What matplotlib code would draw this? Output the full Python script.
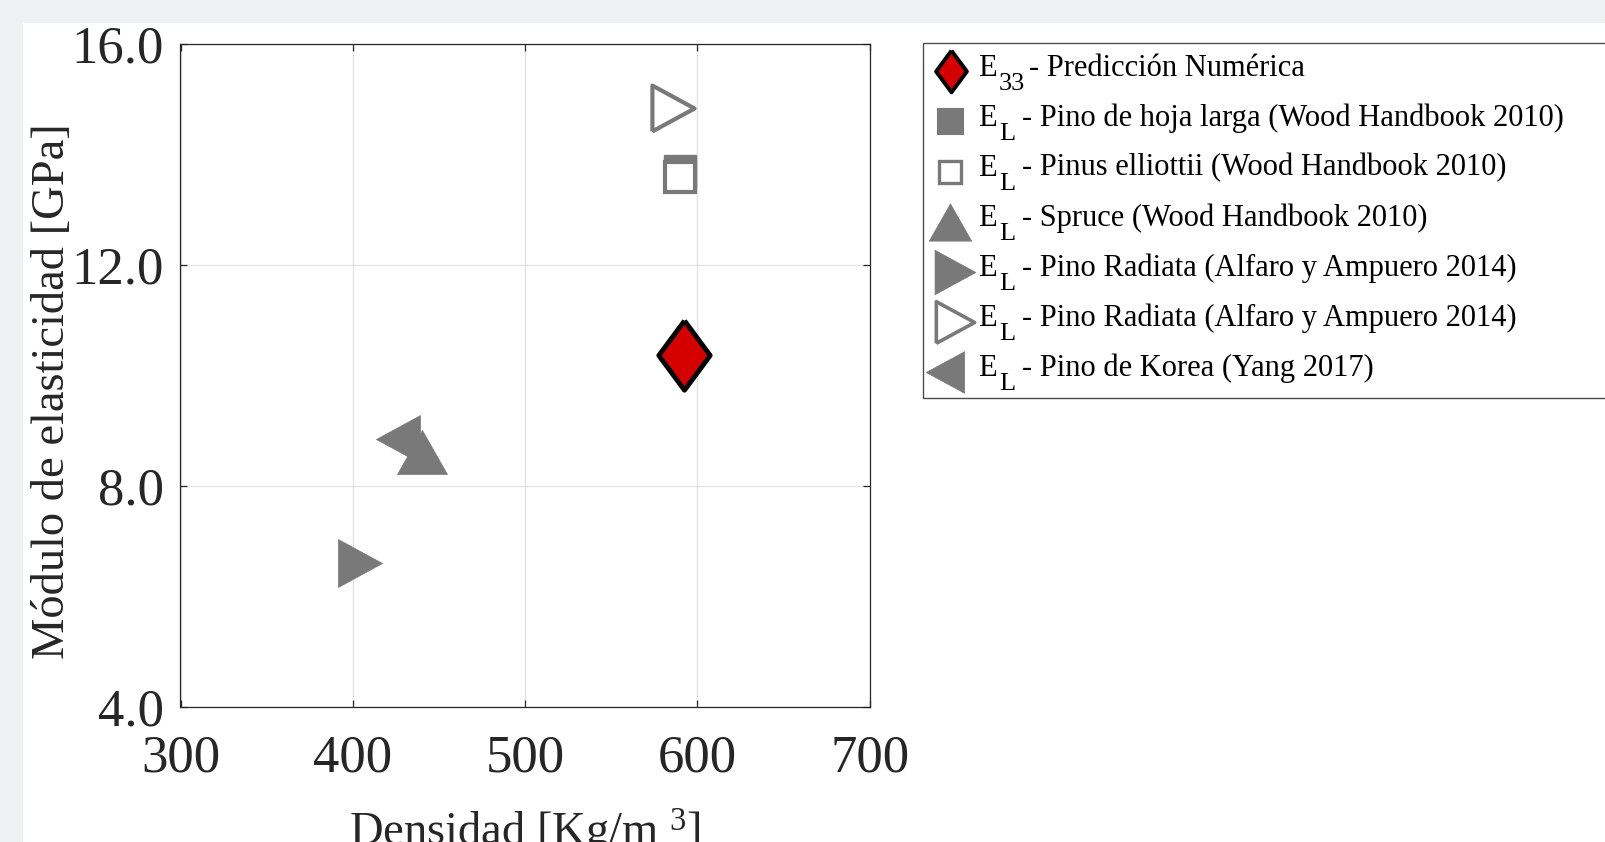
import matplotlib
matplotlib.use("Agg")
import matplotlib.pyplot as plt
from matplotlib.lines import Line2D
from matplotlib.patches import Rectangle

plt.rcParams['font.family'] = ['Liberation Serif', 'DejaVu Serif']
plt.rcParams['mathtext.fontset'] = 'custom'
plt.rcParams['mathtext.rm'] = 'Liberation Serif'
plt.rcParams['mathtext.it'] = 'Liberation Serif:italic'

# ---------------- DATA ---------------- #
subindices = ['33', 'L', 'L', 'L', 'L', 'L', 'L']
descripciones = [
    '- Predicción Numérica',
    '- Pino de hoja larga (Wood Handbook 2010)',
    '- Pinus elliottii (Wood Handbook 2010)',
    '- Spruce (Wood Handbook 2010)',
    '- Pino Radiata (Alfaro y Ampuero 2014)',
    '- Pino Radiata (Alfaro y Ampuero 2014)',
    '- Pino de Korea (Yang 2017)',
]
densidad = [592, 590, 590, 440, 404, 586, 426]       # kg/m3
modulo = [10.36, 13.70, 13.59, 8.62, 6.61, 14.84, 8.84]  # GPa

x_ticks = [300, 400, 500, 600, 700]
y_ticks = [4, 8, 12, 16]

# ---------------- STYLES ---------------- #
gris = '#797979'
rojo = '#d40000'
rombo = [(0, 1), (0.74, 0), (0, -1), (-0.74, 0), (0, 1)]
tri_up = [(-1, -0.88), (1, -0.88), (0, 0.88), (-1, -0.88)]
tri_der = [(-0.92, -1), (-0.92, 1), (0.92, 0), (-0.92, -1)]
tri_izq = [(0.92, -1), (0.92, 1), (-0.92, 0), (0.92, -1)]

# marker, face, edge, size in plot, edge width in plot, size in legend, edge width in legend
estilos = [
    (rombo, rojo, 'black', 50, 3.5, 30, 2.8),
    ('s', gris, gris, 23, 1.0, 18.5, 0.8),
    ('s', 'white', gris, 22, 3.0, 16.5, 2.4),
    (tri_up, gris, gris, 36, 0.5, 30.5, 0.5),
    (tri_der, gris, gris, 34.5, 0.5, 32, 0.5),
    (tri_der, 'white', gris, 33, 3.0, 30, 2.6),
    (tri_izq, gris, gris, 34.5, 0.5, 30, 0.5),
]

W, H = 1606, 842
fig = plt.figure(figsize=(W / 100, H / 100), dpi=100, facecolor='#f0f1f3')
fig.add_artist(Rectangle((22.7 / W, 0), 1, 1 - 22.7 / H, transform=fig.transFigure,
                         facecolor='white', edgecolor='none', zorder=-10))

ax = fig.add_axes([180.5 / W, 1 - 706.7 / H, 689.3 / W, 662.7 / H])

for xi, yi, (mk, fc, ec, ms, mew, _, _) in zip(densidad, modulo, estilos):
    ax.plot([xi], [yi], linestyle='none', marker=mk, markerfacecolor=fc,
            markeredgecolor=ec, markersize=ms, markeredgewidth=mew, zorder=3)

ax.set_xlim(300, 700)
ax.set_ylim(4, 16)
ax.set_xticks(x_ticks)
ax.set_yticks(y_ticks)
ax.set_yticklabels([f'{v:.1f}' for v in y_ticks])
ax.grid(True, color='#e3e3e3', linewidth=0.9)
ax.set_axisbelow(True)
for s in ax.spines.values():
    s.set_color('#262626')
    s.set_linewidth(0.9)
ax.tick_params(direction='in', length=5, width=0.9, colors='#262626',
               labelsize=38, top=True, right=True)
ax.tick_params(axis='x', pad=20)
ax.tick_params(axis='y', pad=12)

ax.set_xlabel('Densidad [Kg/m $^{3}$]', fontsize=33.5, color='#262626')
ax.set_ylabel('Módulo de elasticidad [GPa]', fontsize=33.5, color='#262626')
ax.xaxis.set_label_coords(0.5, -0.151)
ax.yaxis.set_label_coords(-0.154, 0.476)

# ---------------- LEGEND ---------------- #
fig.add_artist(Rectangle((923 / W, 1 - 398.3 / H), 1, (398.3 - 43.3) / H,
                         transform=fig.transFigure, facecolor='white',
                         edgecolor='#4d4d4d', linewidth=1.0, zorder=5))
dx = [951, 950, 950, 950, 955, 955, 945]
for i, (sub, desc, (mk, fc, ec, _, _, lms, lmew)) in enumerate(
        zip(subindices, descripciones, estilos)):
    yc = 71.2 + i * 50.2
    base = 75.7 + i * 50.0
    fig.add_artist(Line2D([dx[i] / W], [1 - yc / H], transform=fig.transFigure,
                          linestyle='none', marker=mk, markerfacecolor=fc,
                          markeredgecolor=ec, markersize=lms,
                          markeredgewidth=lmew, zorder=6))
    fig.text(978 / W, 1 - base / H, 'E', fontsize=22,
             va='baseline', ha='left', color='black', zorder=6)
    fig.text(999 / W, 1 - (base + 14.3) / H, sub, fontsize=19,
             va='baseline', ha='left', color='black', zorder=6)
    x_desc = 1029 if len(sub) > 1 else 1022
    fig.text(x_desc / W, 1 - base / H, desc, fontsize=22,
             va='baseline', ha='left', color='black', zorder=6)

fig.savefig('out.png', dpi=100, facecolor=fig.get_facecolor())
